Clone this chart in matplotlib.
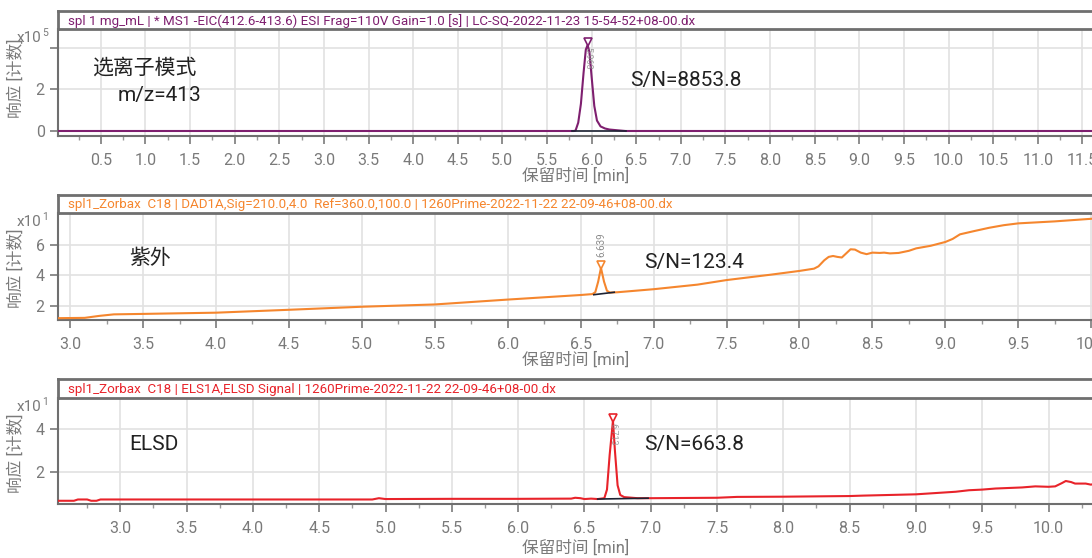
import numpy as np
import matplotlib
matplotlib.use("Agg")
import matplotlib.pyplot as plt
from matplotlib.ticker import MultipleLocator

plt.rcParams["font.family"] = ["Roboto", "Noto Sans CJK SC", "DejaVu Sans"]

# ---- data ----
ms_x = [0.02, 5.80, 5.82, 5.85, 5.88, 5.91, 5.935, 5.955, 5.975, 6.0, 6.03,
        6.06, 6.10, 6.15, 6.20, 6.30, 6.38, 11.75]
ms_y = [0.0, 0.0, 0.02, 0.4, 1.3, 2.8, 3.9, 4.12, 3.8, 2.6, 1.2,
        0.5, 0.22, 0.12, 0.07, 0.03, 0.0, 0.0]

uv_x = [2.917, 3.1, 3.2, 3.3, 3.5, 4.0, 4.5, 5.0, 5.5, 6.0, 6.5, 6.58, 6.60,
        6.62, 6.639, 6.66, 6.68, 6.70, 6.75, 7.0, 7.3, 7.5, 7.8, 8.0, 8.1,
        8.13, 8.17, 8.2, 8.23, 8.26, 8.29, 8.32, 8.35, 8.38, 8.42, 8.46, 8.5,
        8.55, 8.58, 8.62, 8.68, 8.75, 8.8, 8.9, 9.0, 9.05, 9.1, 9.2, 9.3,
        9.4, 9.5, 9.75, 10.0, 10.08]
uv_y = [1.2, 1.22, 1.35, 1.45, 1.48, 1.56, 1.75, 1.95, 2.1, 2.42, 2.72, 2.78,
        2.9, 3.6, 4.5, 3.6, 3.0, 2.88, 2.9, 3.1, 3.4, 3.7, 4.05, 4.3, 4.45,
        4.6, 5.0, 5.22, 5.28, 5.22, 5.18, 5.45, 5.72, 5.7, 5.5, 5.4, 5.5,
        5.48, 5.5, 5.45, 5.48, 5.62, 5.78, 5.95, 6.2, 6.4, 6.7, 6.92, 7.13,
        7.3, 7.42, 7.55, 7.72, 7.8]

elsd_x = [2.53, 2.65, 2.68, 2.75, 2.78, 2.82, 2.85, 4.9, 4.95, 5.0, 5.5, 6.0,
          6.4, 6.43, 6.47, 6.5, 6.55, 6.6, 6.65, 6.67, 6.69, 6.715, 6.73,
          6.75, 6.77, 6.8, 6.9, 7.0, 7.5, 7.65, 8.0, 8.5, 8.6, 9.0, 9.3, 9.4,
          9.5, 9.6, 9.8, 9.9, 10.0, 10.05, 10.1, 10.13, 10.17, 10.2, 10.28,
          10.32, 10.36, 10.41]
elsd_y = [0.68, 0.68, 0.74, 0.74, 0.68, 0.68, 0.74, 0.74, 0.8, 0.76, 0.77,
          0.77, 0.78, 0.82, 0.8, 0.76, 0.78, 0.76, 0.8, 1.2, 2.8, 4.4, 3.0,
          1.4, 0.95, 0.85, 0.8, 0.8, 0.82, 0.86, 0.87, 0.9, 0.92, 0.98, 1.1,
          1.17, 1.2, 1.25, 1.3, 1.35, 1.33, 1.35, 1.5, 1.6, 1.55, 1.48, 1.48,
          1.43, 1.5, 1.5]

titles = [
    "spl 1 mg_mL | * MS1 -EIC(412.6-413.6) ESI Frag=110V Gain=1.0 [s] | LC-SQ-2022-11-23 15-54-52+08-00.dx",
    "spl1_Zorbax  C18 | DAD1A,Sig=210.0,4.0  Ref=360.0,100.0 | 1260Prime-2022-11-22 22-09-46+08-00.dx",
    "spl1_Zorbax  C18 | ELS1A,ELSD Signal | 1260Prime-2022-11-22 22-09-46+08-00.dx",
]
colors = ["#7e1f6f", "#f5862e", "#e8232a"]
xlims = [(0.02, 11.73), (2.917, 10.08), (2.53, 10.41)]
ylims = [(-0.24, 4.89), (1.08, 8.1), (0.53, 5.46)]
yticks = [[0, 2, 4], [2, 4, 6], [2, 4]]
yticklabels = [["0", "2", ""], ["2", "4", "6"], ["2", "4"]]
exps = ["5", "1", "1"]
peak_x = [5.955, 6.639, 6.715]
peak_y = [4.12, 4.5, 4.4]
peak_lbl = ["5.963", "6.639", "6.713"]
base_seg = [([5.78, 6.38], [0.0, 0.0]), ([6.59, 6.73], [2.74, 2.9]), ([6.60, 6.98], [0.76, 0.8])]
notes = [[("选离子模式", 0.033, 0.636, "left"), ("m/z=413", 0.137, 0.383, "right"),
          ("S/N=8853.8", 0.548, 0.523, "left")],
         [("紫外", 0.068, 0.579, "left"), ("S/N=123.4", 0.561, 0.533, "left")],
         [("ELSD", 0.068, 0.557, "left"), ("S/N=663.8", 0.561, 0.566, "left")]]

W, H = 1092, 558
# pixel boxes: (title_top, plot_top, plot_bottom)
boxes = [(11, 29, 136), (195, 213, 320), (379, 398, 504)]
xlab_y = [176, 360, 548]
ylab_y = [78, 268, 453]
left_px = 58

fig = plt.figure(figsize=(W / 100, H / 100), dpi=100)
gray = "#6f6f6f"
tick_gray = "#7a7a7a"

series = [(ms_x, ms_y), (uv_x, uv_y), (elsd_x, elsd_y)]
for i in range(3):
    tt, pt, pb = boxes[i]
    l = left_px / W
    w = 1 - l + 0.01
    ax = fig.add_axes([l, 1 - pb / H, w, (pb - pt) / H])
    tax = fig.add_axes([l, 1 - pt / H, w, (pt - tt) / H])
    tax.set_xticks([])
    tax.set_yticks([])
    for s in tax.spines.values():
        s.set_color(gray)
        s.set_linewidth(2)
    tax.text(0.0097, 0.45, titles[i], color=colors[i], fontsize=9.6,
             va="center", ha="left", transform=tax.transAxes)

    x, y = series[i]
    ax.plot(x, y, color=colors[i], lw=1.5, zorder=3)
    bx, by = base_seg[i]
    ax.plot(bx, by, color="#1d2233", lw=1.2, zorder=4)
    yr = ylims[i][1] - ylims[i][0]
    ax.plot([peak_x[i]], [peak_y[i] + yr * 0.03], marker="v", ms=6, mfc="none",
            mec=colors[i], mew=1.2, zorder=5)
    if i == 1:
        ax.text(peak_x[i], peak_y[i] + yr * 0.1, peak_lbl[i], rotation=90,
                fontsize=7, color="#8a8a8a", ha="center", va="bottom")
    else:
        ax.text(peak_x[i], peak_y[i] - yr * 0.02, peak_lbl[i], rotation=-90,
                fontsize=6.5, color="#8a8a8a", ha="center", va="top", alpha=0.8)

    ax.set_xlim(*xlims[i])
    ax.set_ylim(*ylims[i])
    ax.xaxis.set_major_locator(MultipleLocator(0.5))
    ax.xaxis.set_minor_locator(MultipleLocator(0.25))
    ax.set_yticks(yticks[i])
    ax.set_yticklabels(yticklabels[i])
    ax.grid(True, which="major", color="#e2e2e2", lw=1.2, zorder=0)
    ax.tick_params(axis="both", which="major", colors=tick_gray, labelsize=11.5,
                   length=6, width=1.2, labelcolor=tick_gray)
    ax.tick_params(axis="x", which="minor", length=3, width=1, colors="#999999")
    ax.tick_params(axis="x", pad=6)
    for side in ["right", "top"]:
        ax.spines[side].set_visible(False)
    for side in ["left", "bottom"]:
        ax.spines[side].set_color(gray)
        ax.spines[side].set_linewidth(1.5)

    for txt, tx, ty, ha in notes[i]:
        ax.text(tx, ty, txt, transform=ax.transAxes, fontsize=15, ha=ha,
                va="center", color="#222222")

    # axis labels and exponent
    fig.text(576 / W, 1 - xlab_y[i] / H, "保留时间 [min]", ha="center", va="center",
             fontsize=12, color=tick_gray)
    fig.text(16 / W, 1 - ylab_y[i] / H, "响应 [计数]", ha="center", va="center",
             rotation=90, fontsize=12, color=tick_gray)
    fig.text(17 / W, 1 - (pt + 9) / H, "x10", ha="left", va="center",
             fontsize=11, color=tick_gray)
    fig.text(42 / W, 1 - (pt + 4) / H, exps[i], ha="left", va="center",
             fontsize=7.5, color=tick_gray)

fig.savefig("out.png", dpi=100)
